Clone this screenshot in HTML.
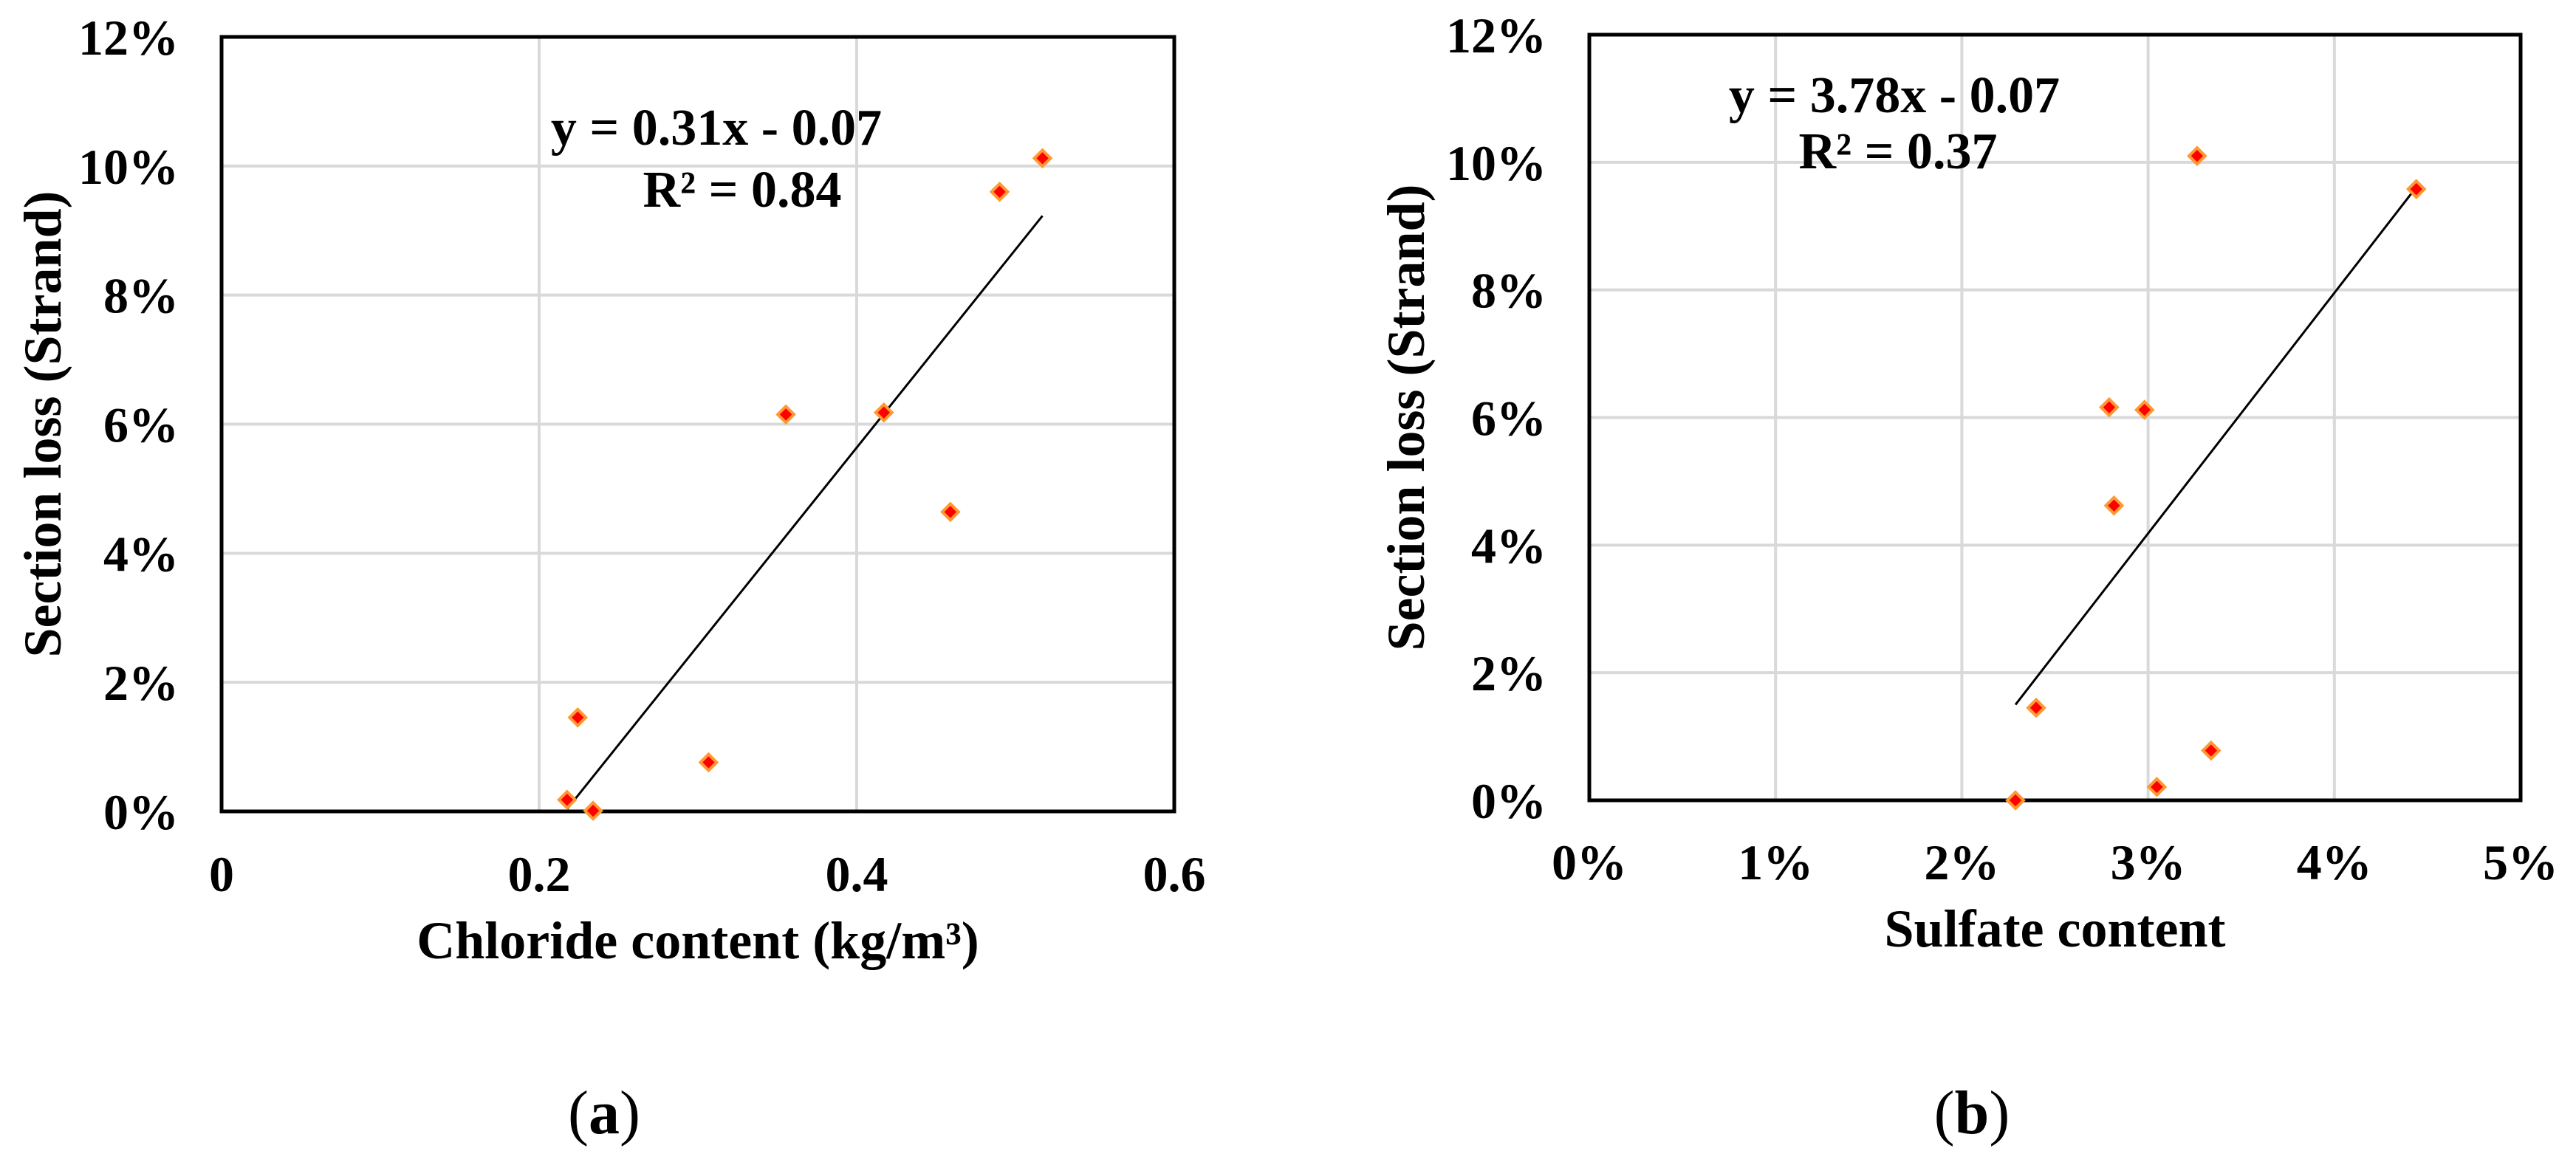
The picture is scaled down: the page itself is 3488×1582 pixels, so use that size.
<!DOCTYPE html>
<html><head><meta charset="utf-8"><style>
html,body{margin:0;padding:0;background:#fff;}
svg{display:block;font-family:"Liberation Serif",serif;}
</style></head><body>
<svg id="fig" width="3488" height="1582" viewBox="0 0 3488 1582" xmlns="http://www.w3.org/2000/svg"></svg>
<script>
// Chart (a) data
const aX = [0.2176, 0.2243, 0.234, 0.3067, 0.3554, 0.4171, 0.459, 0.490, 0.517];
const aY = [0.0018, 0.01455, 0.0001, 0.0076, 0.0615, 0.0618, 0.0464, 0.0960, 0.1012];
const aXTicks = [0, 0.2, 0.4, 0.6];
const aXTickLabels = ["0", "0.2", "0.4", "0.6"];
// Chart (b) data
const bX = [0.02288, 0.02399, 0.02791, 0.02981, 0.02817, 0.03263, 0.04440, 0.03338, 0.03047];
const bY = [0.0000, 0.0145, 0.0616, 0.0612, 0.0462, 0.1010, 0.0958, 0.0078, 0.0021];
const bXTicks = [0, 0.01, 0.02, 0.03, 0.04, 0.05];
const bXTickLabels = ["0%", "1%", "2%", "3%", "4%", "5%"];
const yTicks = [0, 0.02, 0.04, 0.06, 0.08, 0.10, 0.12];
const yTickLabels = ["0%", "2%", "4%", "6%", "8%", "10%", "12%"];

const NS = "http://www.w3.org/2000/svg";
const svg = document.getElementById("fig");
function mk(tag, attrs, parent, text){
  const e = document.createElementNS(NS, tag);
  for (const k in attrs) e.setAttribute(k, attrs[k]);
  if (text !== undefined) e.textContent = text;
  (parent || svg).appendChild(e);
  return e;
}
function fit(xs, ys){
  const n = xs.length; let sx=0, sy=0, sxx=0, sxy=0;
  for (let i=0;i<n;i++){sx+=xs[i];sy+=ys[i];sxx+=xs[i]*xs[i];sxy+=xs[i]*ys[i];}
  const m = (n*sxy-sx*sy)/(n*sxx-sx*sx);
  return {m:m, b:(sy-m*sx)/n};
}
function chart(cfg){
  const g = mk("g", {});
  
  
  const sx = v => cfg.L + (v - cfg.xmin)/(cfg.xmax - cfg.xmin)*(cfg.R - cfg.L);
  const sy = v => cfg.B - v/0.12*(cfg.B - cfg.T);
  // gridlines
  yTicks.forEach((t,i)=>{
    if (i>0 && i<yTicks.length-1){
      const l = mk("line", {x1:cfg.L, x2:cfg.R, y1:sy(t), y2:sy(t), stroke:"#d9d9d9", "stroke-width":4}, g);
      
      
    }
    const tl = mk("text", {x:cfg.labR, y:sy(t)+24, "text-anchor":"end", "font-size":68, "font-weight":"bold"}, g, yTickLabels[i]);
    
    
  });
  cfg.xt.forEach((t,i)=>{
    if (i>0 && i<cfg.xt.length-1){
      const l = mk("line", {x1:sx(t), x2:sx(t), y1:cfg.T, y2:cfg.B, stroke:"#d9d9d9", "stroke-width":4}, g);
      
      
    }
    const tl = mk("text", {x:sx(t), y:cfg.xlabY, "text-anchor":"middle", "font-size":68, "font-weight":"bold"}, g, cfg.xl[i]);
    
    
  });
  const box = mk("rect", {x:cfg.L, y:cfg.T, width:cfg.R-cfg.L, height:cfg.B-cfg.T, fill:"none", stroke:"#000", "stroke-width":5}, g);
  
  
  // trendline
  const f = fit(cfg.xs, cfg.ys);
  const x0 = Math.min(...cfg.xs), x1 = Math.max(...cfg.xs);
  const tr = mk("line", {x1:sx(x0), y1:sy(f.m*x0+f.b), x2:sx(x1), y2:sy(f.m*x1+f.b), stroke:"#000", "stroke-width":3}, g);
  
  
  // points
  cfg.xs.forEach((x,i)=>{
    const cx = sx(x), cy = sy(cfg.ys[i]), r = 11;
    const p = mk("polygon", {points:`${cx},${cy-r} ${cx+r},${cy} ${cx},${cy+r} ${cx-r},${cy}`, fill:"#ff0000", stroke:"#ff9933", "stroke-width":4}, g);
    
    
  });
  const e1 = mk("text", {x:cfg.eqX, y:cfg.eqY, "text-anchor":"middle", "font-size":70, "font-weight":"bold"}, g, cfg.eq);
  
  
  const e2 = mk("text", {x:cfg.r2X, y:cfg.r2Y, "text-anchor":"middle", "font-size":70, "font-weight":"bold"}, g, cfg.r2);
  
  
  const xt = mk("text", {x:(cfg.L+cfg.R)/2, y:cfg.xtY, "text-anchor":"middle", "font-size":72, "font-weight":"bold"}, g, cfg.xtitle);
  
  
  const yt = mk("text", {x:0, y:0, "text-anchor":"middle", "font-size":72, "font-weight":"bold", transform:`translate(${cfg.ytX},${(cfg.T+cfg.B)/2}) rotate(-90)`}, g, "Section loss (Strand)");
  
  
  const cap = mk("text", {x:cfg.capX, y:1535, "text-anchor":"middle", "font-size":84}, g);
  
  
  mk("tspan", {}, cap, "(");
  mk("tspan", {"font-weight":"bold"}, cap, cfg.cap);
  mk("tspan", {}, cap, ")");
}
chart({name:"chart-chloride", L:300, R:1590, T:50, B:1099, xmin:0, xmax:0.6, xt:aXTicks, xl:aXTickLabels,
  xs:aX, ys:aY, labR:242, xlabY:1207, eq:"y = 0.31x - 0.07", eqX:970, eqY:196, r2:"R² = 0.84", r2X:1005, r2Y:280,
  xtitle:"Chloride content (kg/m³)", xtY:1298, ytX:82, capX:818, cap:"a"});
chart({name:"chart-sulfate", L:2152, R:3413, T:47, B:1084, xmin:0, xmax:0.05, xt:bXTicks, xl:bXTickLabels,
  xs:bX, ys:bY, labR:2094, xlabY:1191, eq:"y = 3.78x - 0.07", eqX:2565, eqY:152, r2:"R² = 0.37", r2X:2570, r2Y:228,
  xtitle:"Sulfate content", xtY:1282, ytX:1928, capX:2670, cap:"b"});
</script>
</body></html>
